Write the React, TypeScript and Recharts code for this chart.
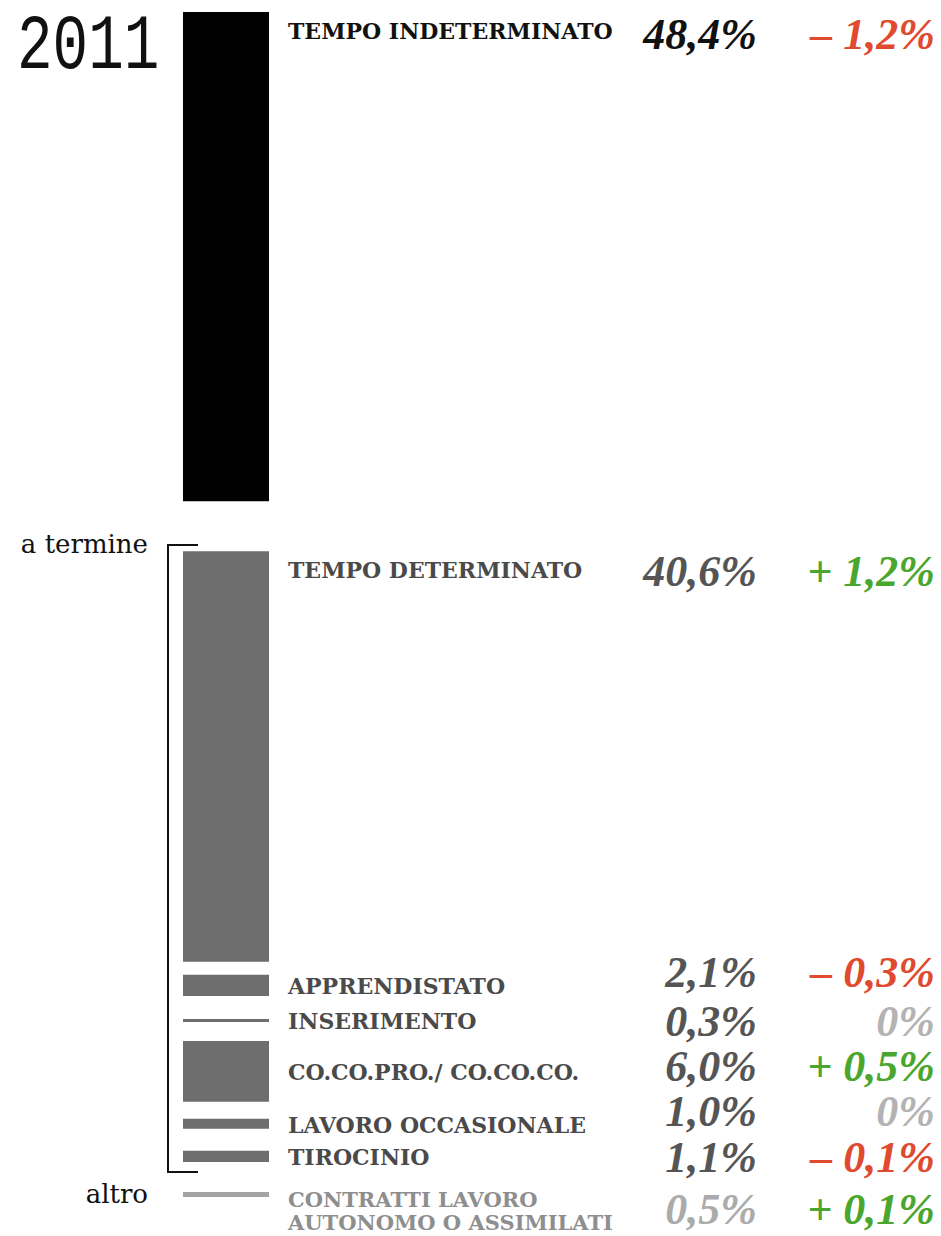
import React from "react";
import { BarChart, Bar, XAxis, YAxis, LabelList, Customized } from "recharts";

const categories = [
  "TEMPO INDETERMINATO",
  "TEMPO DETERMINATO",
  "APPRENDISTATO",
  "INSERIMENTO",
  "CO.CO.PRO./ CO.CO.CO.",
  "LAVORO OCCASIONALE",
  "TIROCINIO",
  "CONTRATTI LAVORO|AUTONOMO O ASSIMILATI",
];
const shares = [48.4, 40.6, 2.1, 0.3, 6.0, 1.0, 1.1, 0.5];
const changes = [-1.2, 1.2, -0.3, 0, 0.5, 0, -0.1, 0.1];
const groups = ["indet", "termine", "termine", "termine", "termine", "termine", "termine", "altro"];

// layout only: white space between segments (axis % units) and
// vertical nudge of the number columns relative to each segment
const gaps = [4.95, 1.29, 2.27, 1.88, 1.68, 2.18, 2.97];
const valueShift = [4, 2, -13, 1, -5, -12, 1, 15];

const barFill: Record<string, string> = { indet: "#000000", termine: "#6e6e6e", altro: "#a3a3a3" };
const nameFill: Record<string, string> = { indet: "#111111", termine: "#4a4a4a", altro: "#8e8e8e" };
const valueFill: Record<string, string> = { indet: "#111111", termine: "#555555", altro: "#ababab" };

const row: Record<string, number | string> = { year: "2011" };
shares.forEach((v, i) => {
  row[`s${i}`] = v;
  if (i < gaps.length) row[`g${i}`] = gaps[i];
});
const total = shares.reduce((a, b) => a + b, 0) + gaps.reduce((a, b) => a + b, 0);

const fmt = (v: number) => v.toFixed(1).replace(".", ",") + "%";
function fmtChange(v: number) {
  if (v === 0) return "0%";
  return (v > 0 ? "+ " : "– ") + Math.abs(v).toFixed(1).replace(".", ",") + "%";
}
function changeColor(v: number) {
  if (v > 0) return "#4aa62c";
  if (v < 0) return "#e04a2e";
  return "#b3b3b3";
}

const numFont = "'Liberation Serif', serif";
const nameFont = "'DejaVu Serif', serif";

function renderLabel(p: any, i: number) {
  const top = Math.min(p.y, p.y + p.height);
  const h = Math.abs(p.height);
  const cy = h > 100 ? top + 18 : top + h / 2;
  const g = groups[i];
  const lines = categories[i].split("|");
  const lineY = lines.length > 1 ? [cy + 5, cy + 28] : [cy + 1];
  const valY = cy + valueShift[i];
  return (
    <g key={`lab${i}`}>
      {lines.map((t, k) => (
        <text
          key={k}
          x={288}
          y={lineY[k]}
          dominantBaseline="central"
          fontFamily={nameFont}
          fontWeight="bold"
          fontSize={lines.length > 1 ? 21 : 22}
          fill={nameFill[g]}
        >
          {t}
        </text>
      ))}
      <text
        x={757}
        y={valY}
        textAnchor="end"
        dominantBaseline="central"
        fontFamily={numFont}
        fontWeight="bold"
        fontStyle="italic"
        fontSize={44}
        fill={valueFill[g]}
      >
        {fmt(shares[i])}
      </text>
      <text
        x={935}
        y={valY}
        textAnchor="end"
        dominantBaseline="central"
        fontFamily={numFont}
        fontWeight="bold"
        fontStyle="italic"
        fontSize={44}
        fill={changeColor(changes[i])}
        xmlSpace="preserve"
      >
        {fmtChange(changes[i])}
      </text>
    </g>
  );
}

function Decorations() {
  return (
    <g>
      <text
        transform="translate(17 68) scale(0.76 1)"
        fontFamily="'Liberation Mono', monospace"
        fontSize={78}
        fill="#111"
      >
        2011
      </text>
      <text x={148} y={553} textAnchor="end" fontFamily="'DejaVu Serif', serif" fontSize={26} fill="#111">
        a termine
      </text>
      <text x={148} y={1203} textAnchor="end" fontFamily="'DejaVu Serif', serif" fontSize={26} fill="#111">
        altro
      </text>
      <path d="M198 545 H168 V1172 H198" fill="none" stroke="#111" strokeWidth={2} />
    </g>
  );
}

export default function App() {
  return (
    <div style={{ position: "absolute", left: 0, top: 0, width: 941, height: 1236, background: "#fff" }}>
      <BarChart
        width={941}
        height={1236}
        data={[row]}
        margin={{ top: 12, right: 672, bottom: 39, left: 183 }}
        barCategoryGap={0}
      >
        <XAxis dataKey="year" hide />
        <YAxis type="number" hide reversed domain={[0, total]} allowDataOverflow />
        {shares.map((_, i) => [
          <Bar
            key={`s${i}`}
            dataKey={`s${i}`}
            stackId="a"
            fill={barFill[groups[i]]}
            isAnimationActive={false}
          >
            <LabelList dataKey={`s${i}`} content={(p: any) => renderLabel(p, i)} />
          </Bar>,
          i < gaps.length ? (
            <Bar key={`g${i}`} dataKey={`g${i}`} stackId="a" fill="none" isAnimationActive={false} />
          ) : null,
        ])}
        <Customized component={Decorations} />
      </BarChart>
    </div>
  );
}
